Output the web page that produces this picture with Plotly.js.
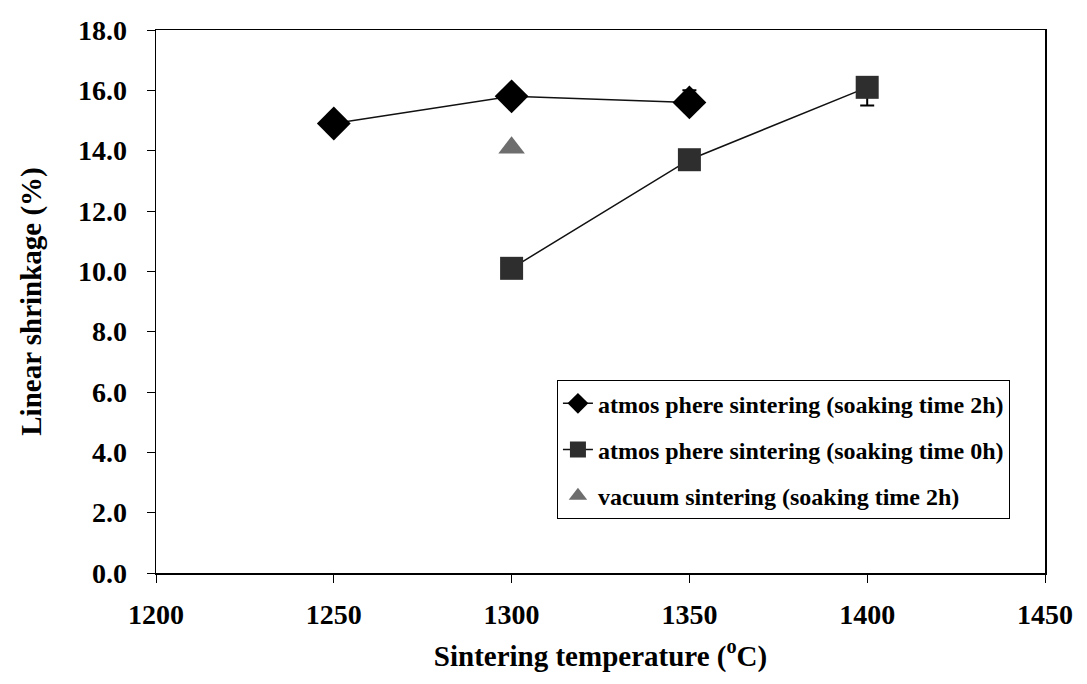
<!DOCTYPE html>
<html>
<head>
<meta charset="utf-8">
<script src="https://cdn.plot.ly/plotly-3.0.1.min.js"></script>
<style>html,body{margin:0;padding:0;background:#fff;}#chart{width:1087px;height:684px;}</style>
</head>
<body>
<div id="chart"></div>
<script>
// Data
const temp2h = [1250, 1300, 1350];
const shrink2h = [14.9, 15.8, 15.6];
const err2hPlus = [0.15, 0.15, 0.4];
const err2hMinus = [0.15, 0.15, 0.15];

const temp0h = [1300, 1350, 1400];
const shrink0h = [10.1, 13.7, 16.1];
const err0hPlus = [0.2, 0.3, 0.2];
const err0hMinus = [0.2, 0.2, 0.6];

const tempVac = [1300];
const shrinkVac = [14.1];

const names = [
  'atmos phere sintering (soaking time 2h)',
  'atmos phere sintering (soaking time 0h)',
  'vacuum sintering (soaking time 2h)'
];

const traces = [
  {
    x: temp2h, y: shrink2h, name: names[0], legendgroup: 'a',
    mode: 'lines+markers', type: 'scatter',
    line: {color: '#111', width: 1.5},
    marker: {symbol: 'diamond', size: 26, color: '#000'},
    error_y: {type: 'data', symmetric: false, array: err2hPlus, arrayminus: err2hMinus, color: '#000', thickness: 2, width: 7}
  },
  {
    x: temp0h, y: shrink0h, name: names[1], legendgroup: 'b',
    mode: 'lines+markers', type: 'scatter',
    line: {color: '#111', width: 1.5},
    marker: {symbol: 'square', size: 23, color: '#2e2e2e'},
    error_y: {type: 'data', symmetric: false, array: err0hPlus, arrayminus: err0hMinus, color: '#000', thickness: 2, width: 7}
  },
  {
    x: tempVac, y: shrinkVac, name: names[2], legendgroup: 'c',
    mode: 'markers', type: 'scatter',
    marker: {symbol: 'triangle-up', size: 23, color: '#6e6e6e'}
  }
];

const tickFont = {family: 'Liberation Serif, Times New Roman, serif', size: 28, color: '#000', weight: 'bold'};
const titleFont = {family: 'Liberation Serif, Times New Roman, serif', size: 29, color: '#000', weight: 'bold'};

const layout = {
  width: 1087, height: 684,
  margin: {l: 156, r: 42, t: 30, b: 111},
  paper_bgcolor: '#fff', plot_bgcolor: '#fff',
  showlegend: true,
  legend: {
    x: 0.451, y: 0.355, xanchor: 'left', yanchor: 'top',
    bordercolor: '#000', borderwidth: 1, bgcolor: '#fff',
    tracegroupgap: 12,
    font: {family: 'Liberation Serif, Times New Roman, serif', size: 24, color: '#000', weight: 'bold'}
  },
  xaxis: {
    range: [1200, 1450], dtick: 50, tick0: 1200,
    showgrid: false, zeroline: false,
    showline: true, linecolor: '#000', linewidth: 1.5, mirror: true,
    ticks: 'outside', ticklen: 8, tickcolor: '#000',
    ticklabelstandoff: 8,
    tickfont: tickFont,
    title: {text: 'Sintering temperature (<sup>o</sup>C)', font: titleFont, standoff: 16}
  },
  yaxis: {
    range: [0, 18], dtick: 2, tick0: 0, tickformat: '.1f',
    showgrid: false, zeroline: false,
    showline: true, linecolor: '#000', linewidth: 1.5, mirror: true,
    ticks: 'outside', ticklen: 8, tickcolor: '#000',
    ticklabelstandoff: 14,
    tickfont: tickFont,
    title: {text: 'Linear shrinkage (%)', font: titleFont, standoff: 28}
  }
};

Plotly.newPlot('chart', traces, layout, {displayModeBar: false, staticPlot: true});
</script>
</body>
</html>
